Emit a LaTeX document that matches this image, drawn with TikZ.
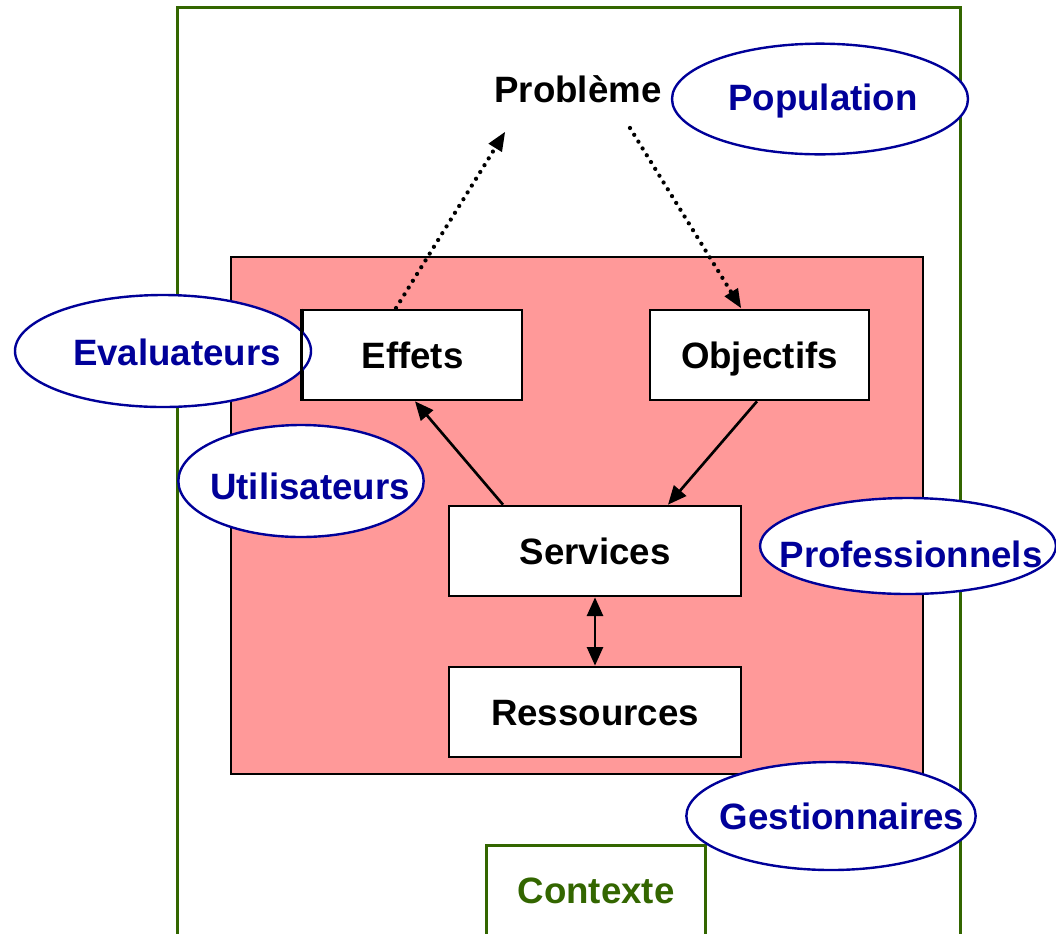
\documentclass[tikz,border=0pt]{standalone}
\usepackage{fontspec}
\setmainfont{Liberation Sans}
\usetikzlibrary{arrows.meta,shapes.geometric}
\definecolor{frameGreen}{HTML}{336600}
\definecolor{ellBlue}{HTML}{000099}
\definecolor{pinkFill}{HTML}{FF9999}
\begin{document}
\begin{tikzpicture}[x=0.75pt,y=-0.75pt,
  txt/.style={font=\fontsize{27.5}{30}\selectfont\bfseries, inner sep=0pt, text height=19.7pt, text depth=0pt},
  bluetxt/.style={txt, text=ellBlue},
  boxnode/.style={draw=black, line width=2pt, fill=white, minimum width=164.25pt, minimum height=67.5pt, inner sep=0pt, txt},
  ell/.style={ellipse, draw=ellBlue, line width=1.8pt, fill=white, inner sep=0pt},
  solidarrow/.style={line width=2pt, -{Triangle[length=14pt,width=12pt]}},
  dotarrow/.style={line width=3.2pt, line cap=round, dash pattern=on 0pt off 6pt, -{Triangle[length=14pt,width=12pt,line width=0pt]}}
]
\useasboundingbox (0,0) rectangle (1056,933);
\fill[white] (0,0) rectangle (1056,933);
% outer context frame
\draw[frameGreen, line width=2.25pt] (177,940) -- (177,7) -- (960,7) -- (960,940);
% contexte box
\draw[frameGreen, line width=2.25pt] (486,940) -- (486,845) -- (705,845) -- (705,940);
\node[txt, text=frameGreen] (ctx) at (596,890) {Contexte};
% pink zone
\draw[fill=pinkFill, line width=2pt] (231,257) rectangle (923,774);
% boxes
\node[boxnode] (eff) at (412.5,355) {Effets};
\node[boxnode] (obj) at (759.5,355) {Objectifs};
\node[boxnode, minimum width=219pt] (serv) at (595,551) {Services};
\node[boxnode, minimum width=219pt] (ress) at (595,712) {Ressources};
% ellipses
\node[ell, minimum width=222pt, minimum height=84pt] (eval) at (163,351) {};
\node[bluetxt] (evalT) at (177,352) {Evaluateurs};
\draw[line width=2pt] (eff.north west) -- (eff.south west);
\node[ell, minimum width=222pt, minimum height=83pt] (pop) at (820,99) {};
\node[bluetxt] (popT) at (823,97) {Population};
\node[ell, minimum width=184pt, minimum height=84pt] (util) at (301,481) {};
\node[bluetxt] (utilT) at (310,486) {Utilisateurs};
\node[ell, minimum width=222pt, minimum height=72pt] (prof) at (908,546) {};
\node[bluetxt] (profT) at (911,554) {Professionnels};
\node[ell, minimum width=217pt, minimum height=81pt] (gest) at (831,816) {};
\node[bluetxt] (gestT) at (842,816) {Gestionnaires};
% probleme
\node[txt] (prob) at (578,89) {Problème};
% connectors
\coordinate (d1s) at (396,308);
\coordinate (d1e) at (505,132);
\coordinate (d2s) at (630,128);
\coordinate (d2e) at (741,308);
\draw[dotarrow] (d1s) -- (d1e);
\draw[dotarrow] (d2s) -- (d2e);
\draw[solidarrow] (serv.north -| 503,0) -- (eff.south -| 415,0);
\draw[solidarrow] (obj.south -| 757,0) -- (serv.north -| 668,0);
\draw[line width=2pt, {Triangle[length=14pt,width=12pt]}-{Triangle[length=14pt,width=12pt]}] (serv.south) -- (ress.north);
\end{tikzpicture}
\end{document}
